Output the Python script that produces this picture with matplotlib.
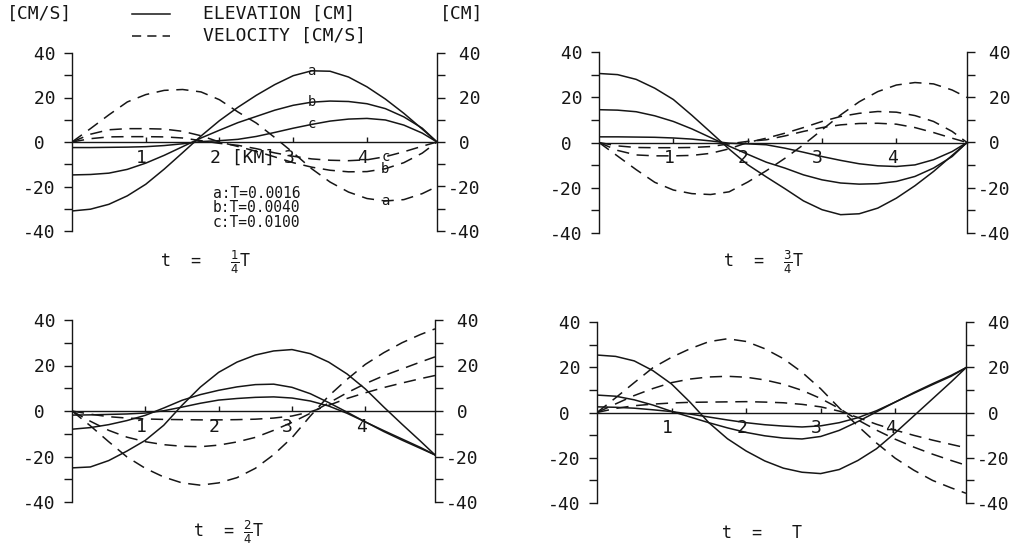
"""
Tidal channel response: surface elevation and current velocity along the
channel at four phases of the tidal period, for three friction settings.
"""

import matplotlib
matplotlib.use('Agg')
import matplotlib.pyplot as plt
from matplotlib.lines import Line2D

FIG_W, FIG_H = 1021, 550  # output size in pixels (dpi 100)

# Distance along the channel [km]
x_km = [0.0, 0.25, 0.5, 0.75, 1.0, 1.25, 1.5, 1.75, 2.0, 2.25, 2.5,
        2.75, 3.0, 3.25, 3.5, 3.75, 4.0, 4.25, 4.5, 4.75, 4.95]

# t = T/4
elev_a_q1 = [-31.0, -30.2, -28.0, -24.2, -19.0, -12.2, -4.8, 2.7, 9.6, 15.6, 21.0,
             25.8, 29.8, 32.0, 31.8, 29.2, 24.8, 19.3, 12.9, 5.8, 0.0]
elev_b_q1 = [-14.8, -14.6, -14.0, -12.3, -9.5, -6.0, -2.1, 1.8, 5.3, 8.7, 11.5,
             14.3, 16.5, 17.9, 18.4, 18.2, 17.2, 15.0, 11.3, 6.2, 0.0]
elev_c_q1 = [-2.5, -2.5, -2.4, -2.3, -2.1, -1.6, -0.8, 0.2, 0.6, 1.2, 2.5,
             4.3, 6.2, 7.9, 9.4, 10.3, 10.6, 9.9, 7.6, 4.0, 0.0]
vel_a_q1 = [0.0, 6.0, 12.2, 18.0, 21.3, 23.2, 23.6, 22.5, 19.0, 13.5, 8.5,
            2.0, -4.8, -12.0, -18.0, -22.5, -25.4, -26.5, -25.9, -23.2, -20.0]
vel_b_q1 = [0.0, 3.5, 5.5, 6.0, 6.0, 5.8, 4.8, 2.8, 0.0, -2.0, -4.2,
            -6.7, -9.3, -11.3, -12.7, -13.4, -13.3, -12.0, -9.3, -5.0, 0.0]
vel_c_q1 = [0.0, 1.5, 2.3, 2.4, 2.4, 2.3, 1.8, 0.6, -0.6, -1.5, -3.0,
            -4.9, -6.4, -7.6, -8.2, -8.4, -8.0, -6.6, -4.4, -1.9, 0.0]

# t = 3T/4
elev_a_q3 = [30.5, 30.0, 27.9, 24.0, 19.0, 12.0, 4.6, -2.9, -9.8, -15.2, -20.4,
             -25.8, -29.7, -31.9, -31.5, -29.0, -24.6, -19.1, -12.8, -5.7, 0.0]
elev_b_q3 = [14.5, 14.3, 13.6, 11.8, 9.3, 6.0, 2.2, -1.6, -5.2, -8.7, -11.3,
             -14.3, -16.5, -17.9, -18.4, -18.2, -17.2, -15.0, -11.3, -6.2, 0.0]
elev_c_q3 = [2.5, 2.5, 2.4, 2.3, 2.0, 1.5, 0.7, -0.3, -0.6, -1.0, -2.5,
             -4.3, -6.2, -7.9, -9.4, -10.3, -10.6, -9.9, -7.6, -4.0, 0.0]
vel_a_q3 = [0.0, -6.0, -12.0, -17.6, -21.0, -22.6, -23.0, -21.8, -17.5, -12.5, -7.0,
            -1.0, 5.6, 12.2, 18.0, 22.5, 25.4, 26.5, 25.9, 23.2, 19.9]
vel_b_q3 = [0.0, -3.5, -5.5, -5.9, -5.9, -5.7, -4.8, -2.8, 0.0, 1.9, 4.1,
            6.6, 9.3, 11.5, 12.9, 13.7, 13.4, 11.9, 9.3, 4.9, 0.0]
vel_c_q3 = [0.0, -1.5, -2.2, -2.3, -2.3, -2.2, -1.8, -0.6, 0.5, 1.2, 2.9,
            4.9, 6.6, 7.8, 8.4, 8.5, 8.1, 6.6, 4.4, 1.9, 0.0]

# t = 2T/4
elev_a_q2 = [-25.0, -24.6, -21.8, -17.6, -12.9, -6.3, 2.5, 10.5, 17.0, 21.5, 24.6,
             26.4, 27.0, 25.2, 21.5, 16.3, 9.7, 1.8, -5.8, -13.2, -19.3]
elev_b_q2 = [-8.0, -7.3, -6.0, -4.2, -1.9, 1.3, 4.7, 7.2, 9.1, 10.6, 11.6,
             11.8, 10.4, 7.6, 3.7, -0.5, -4.8, -9.0, -12.8, -16.4, -19.3]
elev_c_q2 = [-1.8, -1.7, -1.5, -1.3, -0.9, 0.1, 1.7, 3.4, 4.8, 5.5, 6.0,
             6.2, 5.7, 4.4, 2.2, -1.0, -4.8, -8.6, -12.3, -16.0, -19.3]
vel_a_q2 = [0.0, -6.5, -13.5, -20.2, -25.2, -29.0, -31.6, -32.6, -31.6, -29.3, -25.2,
            -19.2, -11.7, -2.2, 6.6, 13.9, 20.5, 25.6, 30.0, 33.6, 36.1]
vel_b_q2 = [0.0, -4.5, -8.5, -11.5, -13.5, -14.8, -15.5, -15.7, -15.0, -13.6, -11.6,
            -8.5, -5.0, -1.0, 3.5, 8.0, 12.0, 15.5, 18.5, 21.5, 23.8]
vel_c_q2 = [0.0, -1.4, -2.5, -3.1, -3.5, -3.7, -3.8, -3.9, -3.9, -3.8, -3.6,
            -3.1, -2.2, -0.4, 2.5, 5.5, 8.0, 10.3, 12.3, 14.2, 15.6]

# t = T
elev_a_q4 = [25.4, 24.8, 22.8, 18.5, 12.6, 4.5, -4.5, -11.6, -17.0, -21.4, -24.6,
             -26.4, -27.0, -25.2, -21.2, -16.0, -9.0, -1.5, 6.0, 13.5, 19.8]
elev_b_q4 = [7.7, 7.2, 5.6, 3.3, 0.5, -2.0, -4.5, -6.8, -8.8, -10.3, -11.3,
             -11.7, -10.6, -7.9, -4.0, 0.3, 4.6, 8.8, 12.7, 16.4, 19.8]
elev_c_q4 = [2.5, 2.3, 1.9, 1.2, 0.4, -0.7, -2.0, -3.3, -4.5, -5.4, -6.0,
             -6.4, -5.9, -4.5, -2.3, 0.8, 4.6, 8.5, 12.3, 16.0, 19.8]
vel_a_q4 = [0.0, 6.5, 13.2, 19.8, 24.4, 28.2, 31.3, 32.6, 31.4, 28.2, 23.8,
            17.8, 10.5, 2.0, -6.0, -13.5, -20.2, -25.5, -30.0, -33.3, -35.7]
vel_b_q4 = [0.0, 3.8, 7.5, 10.6, 13.2, 14.8, 15.7, 16.0, 15.6, 14.4, 12.5,
            9.8, 6.2, 1.8, -3.3, -7.8, -11.8, -15.3, -18.4, -21.2, -23.3]
vel_c_q4 = [0.0, 1.8, 3.0, 3.7, 4.2, 4.5, 4.6, 4.7, 4.8, 4.6, 4.3,
            3.6, 2.5, 0.6, -2.2, -5.2, -7.8, -10.1, -12.2, -14.1, -15.6]

# Axis ticks and labels
xtick_km = [1, 2, 3, 4]
xtick_labels_first = ['1', '2 [KM]', '3', '4']
xtick_labels = ['1', '2', '3', '4']
ytick_vals = [-40, -30, -20, -10, 0, 10, 20, 30, 40]
ytick_labels = ['-40', '', '-20', '', ' 0', '', ' 20', '', ' 40']

curve_names = ['a', 'b', 'c']
friction_notes = ['a:T=0.0016', 'b:T=0.0040', 'c:T=0.0100']

INK = '#161616'
DASH = (0, (8, 5))


def set_style():
    """Plotter-like look: thin black lines, monospace lettering"""
    plt.rcParams['font.family'] = 'DejaVu Sans Mono'
    plt.rcParams['mathtext.fontset'] = 'dejavusans'
    plt.rcParams['font.size'] = 13
    plt.rcParams['axes.linewidth'] = 1.0
    plt.rcParams['text.color'] = INK
    plt.rcParams['axes.edgecolor'] = INK
    plt.rcParams['xtick.color'] = INK
    plt.rcParams['ytick.color'] = INK


def fig_box(left, top, right, bottom):
    """Convert a pixel box (origin top-left) into figure fractions"""
    return [left / FIG_W, 1 - bottom / FIG_H,
            (right - left) / FIG_W, (bottom - top) / FIG_H]


def fig_xy(x, y):
    return x / FIG_W, 1 - y / FIG_H


def draw_panel(fig, box, elevs, vels, title, title_at, xlabels, tag=False):
    """One time snapshot: elevation (solid) and velocity (dashed) curves"""
    ax = fig.add_axes(fig_box(*box))
    ax.set_xlim(x_km[0], x_km[-1])
    ax.set_ylim(-40, 40)

    for elev in elevs:
        ax.plot(x_km, elev, color=INK, lw=1.1, solid_joinstyle='round')
    for vel in vels:
        ax.plot(x_km, vel, color=INK, lw=1.1, linestyle=DASH)

    # zero line doubles as the distance axis
    ax.spines['top'].set_visible(False)
    ax.spines['right'].set_visible(False)
    ax.spines['bottom'].set_position(('data', 0))
    ax.set_xticks(xtick_km)
    ax.tick_params(axis='x', direction='in', length=3.5, width=1.0,
                   labelbottom=False)
    for k, lab in zip(xtick_km, xlabels):
        ax.annotate(lab, (k, 0), xytext=(-7, -5), textcoords='offset points',
                    ha='left', va='top', fontsize=13)

    # left scale: velocity
    ax.set_yticks(ytick_vals)
    ax.set_yticklabels(ytick_labels, ha='left')
    ax.tick_params(axis='y', direction='out', length=5.8, width=1.0, pad=29.5)

    # right scale: elevation
    ax2 = ax.twinx()
    ax2.set_ylim(-40, 40)
    for side in ('top', 'bottom', 'left'):
        ax2.spines[side].set_visible(False)
    ax2.set_yticks(ytick_vals)
    ax2.set_yticklabels(ytick_labels, ha='left')
    ax2.tick_params(axis='y', direction='out', length=5.8, width=1.0, pad=2.2)

    if tag:
        # curve letters written onto the lines
        for name, elev in zip(curve_names, elevs):
            ax.text(x_km[13], elev[13], name, ha='center', va='center',
                    fontsize=10)
        for name, vel in zip(curve_names, vels):
            ax.text(x_km[17], vel[17], name, ha='center', va='center',
                    fontsize=10)

    fig.text(*fig_xy(*title_at), title, ha='left', va='baseline', fontsize=12)
    return ax


def main():
    set_style()
    fig = plt.figure(figsize=(FIG_W / 100, FIG_H / 100), dpi=100)

    draw_panel(fig, (72, 53, 437, 231),
               [elev_a_q1, elev_b_q1, elev_c_q1], [vel_a_q1, vel_b_q1, vel_c_q1],
               r't  =   $\frac{1}{4}$T', (160, 267), xtick_labels_first, tag=True)
    draw_panel(fig, (599, 52, 967, 233),
               [elev_a_q3, elev_b_q3, elev_c_q3], [vel_a_q3, vel_b_q3, vel_c_q3],
               r't  =  $\frac{3}{4}$T', (723, 267), xtick_labels)
    draw_panel(fig, (72, 320, 435, 502),
               [elev_a_q2, elev_b_q2, elev_c_q2], [vel_a_q2, vel_b_q2, vel_c_q2],
               r't  = $\frac{2}{4}$T', (193, 537), xtick_labels)
    draw_panel(fig, (597, 322, 966, 503),
               [elev_a_q4, elev_b_q4, elev_c_q4], [vel_a_q4, vel_b_q4, vel_c_q4],
               't  =   T', (722, 538), xtick_labels)

    # friction settings for curves a, b, c
    fig.text(*fig_xy(213, 208), '\n'.join(friction_notes), ha='left',
             va='center', fontsize=10.5, linespacing=0.92)

    # header: units of both scales and line key
    fig.text(*fig_xy(7, 14), '[CM/S]', ha='left', va='center', fontsize=13)
    fig.text(*fig_xy(440, 14), '[CM]', ha='left', va='center', fontsize=13)
    x0, y0 = fig_xy(132, 14)
    x1, y1 = fig_xy(170, 36)
    fig.add_artist(Line2D([x0, x1], [y0, y0], transform=fig.transFigure,
                          color=INK, lw=1.1))
    fig.add_artist(Line2D([x0, x1], [y1, y1], transform=fig.transFigure,
                          color=INK, lw=1.1, linestyle=(0, (6, 4))))
    fig.text(*fig_xy(203, 14), 'ELEVATION [CM]', ha='left', va='center',
             fontsize=13)
    fig.text(*fig_xy(203, 36), 'VELOCITY [CM/S]', ha='left', va='center',
             fontsize=13)

    fig.savefig('out.png', dpi=100, facecolor='white')


if __name__ == '__main__':
    main()
